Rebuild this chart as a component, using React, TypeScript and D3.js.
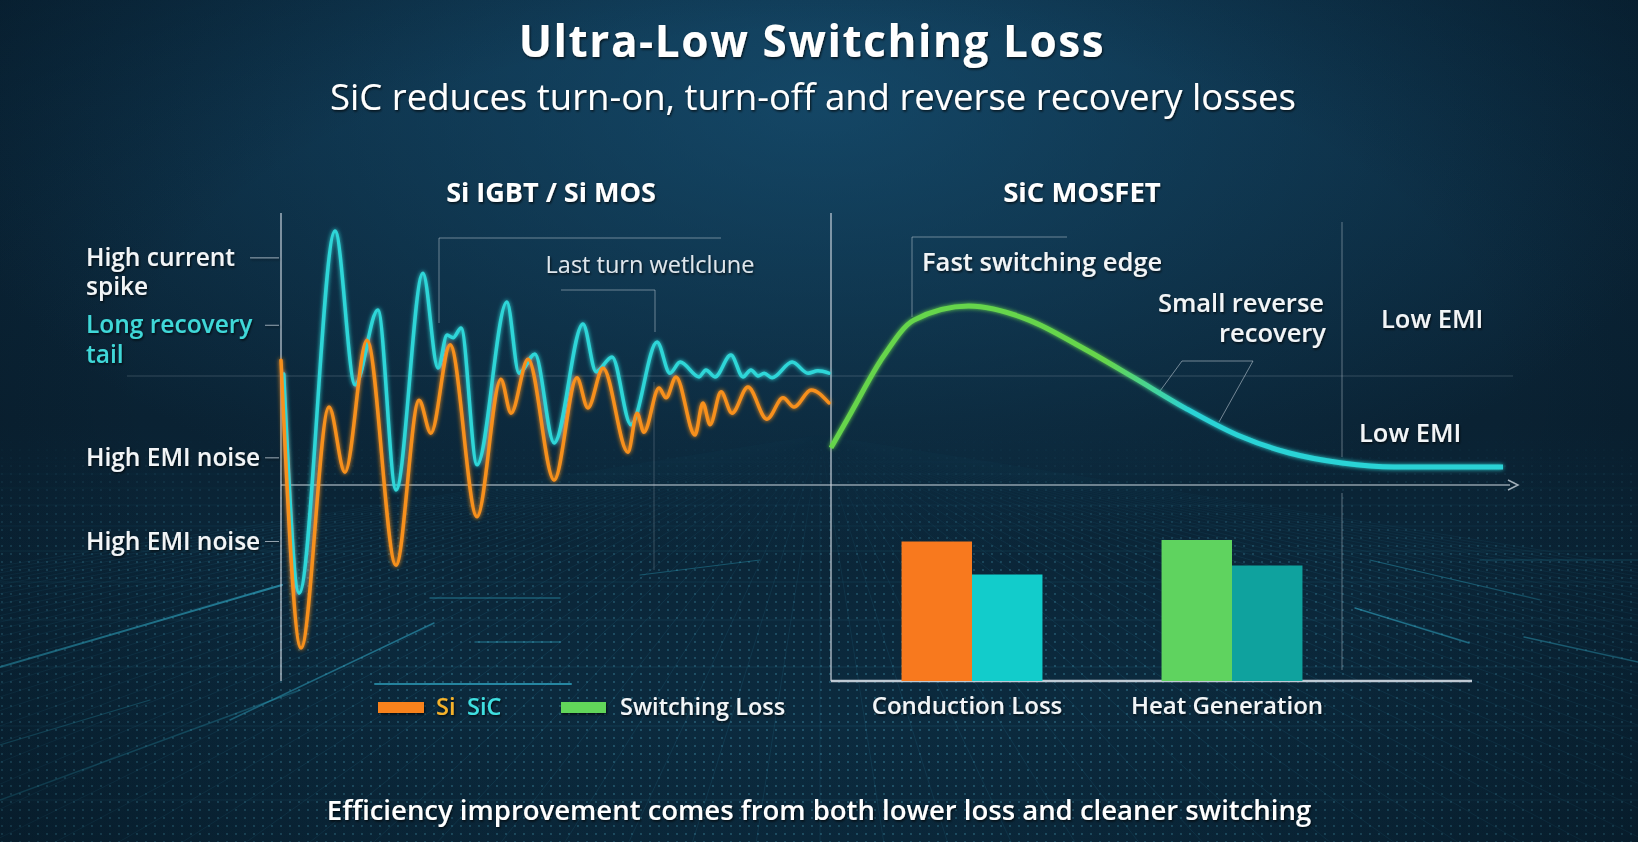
import React from "react";
import * as d3 from "d3";

// Si IGBT / Si MOS turn-off ringing, time in ns, amplitude in % of full scale
const tailTime = [1, 6.6, 19.7, 27, 35.3, 41.9, 51.7, 57.2, 60.5, 62.7, 65.6, 71.4, 82.3, 86.7, 92.5, 99.5, 110, 114.8, 120.6, 127.5, 137, 141.7, 145.4, 152.3, 154.8, 158.1, 163.9, 168.3, 171.2, 173.8, 176, 178.9, 186.2, 192, 195.6, 199.6];
const tailValue = [66, 18.9, 96.8, 63.7, 79.8, 41.1, 87.7, 67.3, 74.4, 73.8, 75.9, 46.5, 81.5, 66.2, 70.3, 51.2, 76.8, 66.5, 69.7, 55.1, 72.9, 66.2, 68.6, 65.4, 66.9, 65.4, 70.1, 65.4, 66.9, 65.6, 66.2, 65.2, 68.6, 66.2, 66.7, 66.2];

const emiTime = [0, 7.3, 17.5, 23.3, 31.3, 41.9, 50.3, 54.6, 61.6, 71.4, 80.1, 83.8, 90, 99.5, 107.8, 111.8, 117.3, 126.4, 129.7, 132.2, 137.7, 140.3, 143.9, 150.8, 153.7, 156.3, 160.3, 164.3, 170.1, 177, 182.9, 186.9, 193.1, 199.6];
const emiValue = [69, 7.1, 58.9, 44.9, 73.3, 24.9, 60.4, 53.3, 72.3, 35.3, 64.9, 57.6, 69.2, 43.2, 65.2, 58.7, 67.3, 49.2, 57.6, 53.5, 63, 60.9, 65.4, 52.9, 59.8, 55.1, 62.2, 57.6, 63.2, 56.3, 60.9, 58.9, 62.6, 59.8];

// SiC MOSFET switching pulse
const sicTime = [0, 2.9, 7.6, 12.1, 20.1, 28.9, 36.5, 44.1, 51.7, 59.3, 66.9, 74.6, 82.2, 98.1];
const sicValue = [13.8, 26.8, 47.6, 61.3, 66.5, 61.3, 51.3, 40.1, 28.6, 18.6, 11.9, 8.2, 6.7, 6.7];

// loss comparison bars
const barCategories = ["Conduction Loss", "Heat Generation"];
const barSeries = ["Si", "SiC"];
const barSi = [93, 94];
const barSic = [71, 77];
const barColors = [
  ["#f8791e", "#12cccb"],
  ["#5fd35f", "#0fa29e"],
];

// left axis callouts
const leftTicks = [91, 76.5, 48, 30];
const leftTickLabels = [["High current", "spike"], ["Long recovery", "tail"], ["High EMI noise"], ["High EMI noise"]];
const leftTickColors = ["#f2f5f7", "#3fd8d8", "#f2f5f7", "#f2f5f7"];

const W = 1638;
const H = 842;
const FONT = "'Open Sans', Roboto, sans-serif";
const AXIS = "#c9d3dc";

export default function App() {
  const xLeft = d3.scaleLinear().domain([0, 200]).range([281, 830]);
  const yLeft = d3.scaleLinear().domain([0, 100]).range([681, 216]);
  const xRight = d3.scaleLinear().domain([0, 100]).range([831, 1516]);
  const yRight = d3.scaleLinear().domain([0, 100]).range([485, 216]);
  const xBar = d3.scaleBand().domain(barCategories).range([842, 1362]).paddingInner(0.458).paddingOuter(0.229);
  const xSub = d3.scaleBand().domain(barSeries).range([0, xBar.bandwidth()]);
  const yBar = d3.scaleLinear().domain([0, 100]).range([681, 531]);

  const leftLine = d3
    .line<[number, number]>()
    .x(d => xLeft(d[0]))
    .y(d => yLeft(d[1]))
    .curve(d3.curveMonotoneX);
  const rightLine = d3
    .line<[number, number]>()
    .x(d => xRight(d[0]))
    .y(d => yRight(d[1]))
    .curve(d3.curveMonotoneX);

  const tailPath = leftLine(tailTime.map((t, i) => [t, tailValue[i]])) ?? "";
  const emiPath = leftLine(emiTime.map((t, i) => [t, emiValue[i]])) ?? "";
  const sicPath = rightLine(sicTime.map((t, i) => [t, sicValue[i]])) ?? "";

  // perspective floor behind the charts
  const vp = { x: 820, y: 435 };
  const rays = d3.range(-40, 41).map(i => `M${vp.x},${vp.y}L${vp.x + i * 70},${H + 40}`);
  const floorRows = [462, 474, 488, 505, 526, 551, 582, 620, 667, 726, 800];
  const streaks = [
    [0, 667, 282, 585, 0.55, 2],
    [230, 720, 434, 623, 0.45, 1.5],
    [0, 800, 300, 690, 0.3, 1.5],
    [0, 745, 150, 700, 0.3, 1.2],
    [1355, 608, 1469, 643, 0.5, 1.5],
    [1524, 637, 1638, 662, 0.45, 1.5],
    [1370, 560, 1540, 600, 0.3, 1.2],
    [430, 598, 560, 598, 0.35, 1.5],
    [475, 642, 560, 642, 0.35, 1.5],
    [640, 575, 760, 560, 0.3, 1.2],
    [1480, 560, 1638, 560, 0.25, 1.2],
    [375, 684, 571, 684, 0.6, 2],
  ];

  return (
    <svg
      width={W}
      height={H}
      viewBox={`0 0 ${W} ${H}`}
      style={{ position: "absolute", left: 0, top: 0, display: "block" }}
      fontFamily={FONT}
    >
      <defs>
        <linearGradient id="bg" x1="0" y1="0" x2="0" y2="1">
          <stop offset="0" stopColor="#0b2b41" />
          <stop offset="0.5" stopColor="#0a2233" />
          <stop offset="1" stopColor="#0c2e43" />
        </linearGradient>
        <radialGradient id="glow" cx="0.5" cy="0.12" r="0.55">
          <stop offset="0" stopColor="#1a5a80" stopOpacity="0.6" />
          <stop offset="1" stopColor="#1a5a80" stopOpacity="0" />
        </radialGradient>
        <radialGradient id="vignette" cx="0.5" cy="0.45" r="0.75">
          <stop offset="0.55" stopColor="#020a12" stopOpacity="0" />
          <stop offset="1" stopColor="#020a12" stopOpacity="0.5" />
        </radialGradient>
        <linearGradient id="floorFade" x1="0" y1="0" x2="0" y2="1">
          <stop offset="0" stopColor="#fff" stopOpacity="0" />
          <stop offset="0.3" stopColor="#fff" stopOpacity="0.65" />
          <stop offset="1" stopColor="#fff" stopOpacity="1" />
        </linearGradient>
        <mask id="floorMask">
          <rect x={0} y={vp.y} width={W} height={H - vp.y} fill="url(#floorFade)" />
        </mask>
        <pattern id="dots" width="9" height="8" patternUnits="userSpaceOnUse">
          <circle cx="2" cy="2" r="0.9" fill="#5cc8e6" fillOpacity="0.55" />
        </pattern>
        <linearGradient id="sicStroke" gradientUnits="userSpaceOnUse" x1={1105} y1={0} x2={1190} y2={0}>
          <stop offset="0" stopColor="#66d54c" />
          <stop offset="1" stopColor="#2bd3d6" />
        </linearGradient>
        <filter id="lineGlow" x="-10%" y="-10%" width="120%" height="120%">
          <feGaussianBlur stdDeviation="2" result="b" />
          <feMerge>
            <feMergeNode in="b" />
            <feMergeNode in="SourceGraphic" />
          </feMerge>
        </filter>
        <filter id="textShadow" x="-5%" y="-20%" width="110%" height="140%">
          <feDropShadow dx="1" dy="1.5" stdDeviation="1.2" floodColor="#000" floodOpacity="0.7" />
        </filter>
      </defs>

      {/* background */}
      <rect width={W} height={H} fill="url(#bg)" />
      <rect width={W} height={H} fill="url(#glow)" />
      <g mask="url(#floorMask)">
        <rect x={0} y={vp.y} width={W} height={H - vp.y} fill="url(#dots)" opacity={0.8} />
        {rays.map((d, i) => (
          <path key={i} d={d} stroke="#3fb3d6" strokeOpacity={0.13} strokeWidth={1} fill="none" />
        ))}
        {floorRows.map(y => (
          <line key={y} x1={0} x2={W} y1={y} y2={y} stroke="#45b9dc" strokeOpacity={0.15} />
        ))}
      </g>
      <g stroke="#39c6e6" fill="none" strokeLinecap="round">
        {streaks.map(([x1, y1, x2, y2, o, w], i) => (
          <line key={i} x1={x1} y1={y1} x2={x2} y2={y2} strokeOpacity={o} strokeWidth={w} />
        ))}
      </g>
      <rect width={W} height={H} fill="url(#vignette)" />

      {/* titles */}
      <g fill="#ffffff" textAnchor="middle" filter="url(#textShadow)">
        <text x={812} y={57} fontSize={44} fontWeight={700} letterSpacing={1.6}>
          Ultra-Low Switching Loss
        </text>
        <text x={813} y={110} fontSize={36.5} fontWeight={400}>
          SiC reduces turn-on, turn-off and reverse recovery losses
        </text>
        <text x={551} y={202} fontSize={27} fontWeight={700}>
          Si IGBT / Si MOS
        </text>
        <text x={1082} y={202} fontSize={27.5} fontWeight={700}>
          SiC MOSFET
        </text>
      </g>

      {/* guide lines */}
      <g stroke={AXIS} fill="none">
        <line x1={127} x2={1513} y1={376} y2={376} strokeOpacity={0.22} />
        <line x1={281} x2={1510} y1={485} y2={485} strokeOpacity={0.7} strokeWidth={1.5} />
        <path d="M1508,480L1518,485L1508,490" strokeOpacity={0.8} strokeWidth={1.5} />
        <line x1={281} x2={281} y1={213} y2={681} strokeOpacity={0.8} strokeWidth={1.5} />
        <line x1={831} x2={831} y1={213} y2={681} strokeOpacity={0.8} strokeWidth={1.5} />
        <line x1={1342} x2={1342} y1={222} y2={457} strokeOpacity={0.45} />
        <line x1={1342} x2={1342} y1={493} y2={670} strokeOpacity={0.45} />
        <line x1={831} x2={1472} y1={681} y2={681} strokeOpacity={0.95} strokeWidth={2.5} />
        {/* callout brackets */}
        <path d="M439,323V238H721" strokeOpacity={0.5} />
        <path d="M561,290H655V332" strokeOpacity={0.5} />
        <line x1={654} x2={654} y1={382} y2={570} strokeOpacity={0.25} />
        <path d="M912,317V237H1067" strokeOpacity={0.5} />
        <path d="M1160,391L1182,361H1253L1219,422" strokeOpacity={0.55} />
      </g>

      {/* left callout ticks and labels */}
      <g fontSize={24.5} fontWeight={600} filter="url(#textShadow)">
        {leftTicks.map((v, i) => {
          const y = yLeft(v);
          return (
            <g key={i}>
              <line x1={i === 0 ? 250 : 265} x2={279} y1={y} y2={y} stroke={AXIS} strokeOpacity={0.7} />
              <text x={86} y={y + 8} fill={leftTickColors[i]}>
                {leftTickLabels[i].map((t, j) => (
                  <tspan key={j} x={86} dy={j === 0 ? 0 : 29.5}>
                    {t}
                  </tspan>
                ))}
              </text>
            </g>
          );
        })}
      </g>

      {/* ringing waveforms */}
      <g fill="none" filter="url(#lineGlow)" strokeLinejoin="round" strokeLinecap="round">
        <path d={tailPath} stroke="#2fd6d8" strokeWidth={3.5} />
        <path d={emiPath} stroke="#f7901e" strokeWidth={3.5} />
      </g>

      {/* SiC pulse */}
      <path d={sicPath} fill="none" stroke="url(#sicStroke)" strokeWidth={5} filter="url(#lineGlow)" />

      {/* loss bars */}
      <g>
        {barCategories.map((c, i) =>
          barSeries.map((s, j) => {
            const v = j === 0 ? barSi[i] : barSic[i];
            const x = (xBar(c) ?? 0) + (xSub(s) ?? 0);
            return (
              <rect
                key={c + s}
                x={x}
                y={yBar(v)}
                width={xSub.bandwidth()}
                height={yBar(0) - yBar(v)}
                fill={barColors[i][j]}
              />
            );
          }),
        )}
      </g>

      {/* annotation text */}
      <g fill="#f2f5f7" fontSize={25.5} fontWeight={600} filter="url(#textShadow)">
        <text x={650} y={273} fontSize={23.5} fontWeight={400} fill="#dfe6ec" textAnchor="middle">
          Last turn wetlclune
        </text>
        <text x={922} y={271}>Fast switching edge</text>
        <text x={1324} y={312} textAnchor="end">
          <tspan x={1324}>Small reverse</tspan>
          <tspan x={1326} dy={30}>
            recovery
          </tspan>
        </text>
        <text x={1381} y={328}>Low EMI</text>
        <text x={1359} y={442}>Low EMI</text>
        {barCategories.map(c => (
          <text key={c} x={(xBar(c) ?? 0) + xBar.bandwidth() / 2 - 5} y={714} fontSize={24} textAnchor="middle">
            {c}
          </text>
        ))}
      </g>

      {/* legend */}
      <g fontSize={23.5} fontWeight={600} filter="url(#textShadow)">
        <rect x={378} y={702} width={46} height={11} fill="#f8821f" />
        <text x={436} y={715} fill="#f5b22c">
          Si
        </text>
        <text x={467} y={715} fill="#3fdfe0">
          SiC
        </text>
        <rect x={561} y={702} width={45} height={11} fill="#62d65a" />
        <text x={620} y={715} fill="#f2f5f7">
          Switching Loss
        </text>
      </g>

      {/* footer */}
      <text
        x={819}
        y={820}
        textAnchor="middle"
        fontSize={27.5}
        fontWeight={600}
        fill="#ffffff"
        filter="url(#textShadow)"
      >
        Efficiency improvement comes from both lower loss and cleaner switching
      </text>
    </svg>
  );
}
